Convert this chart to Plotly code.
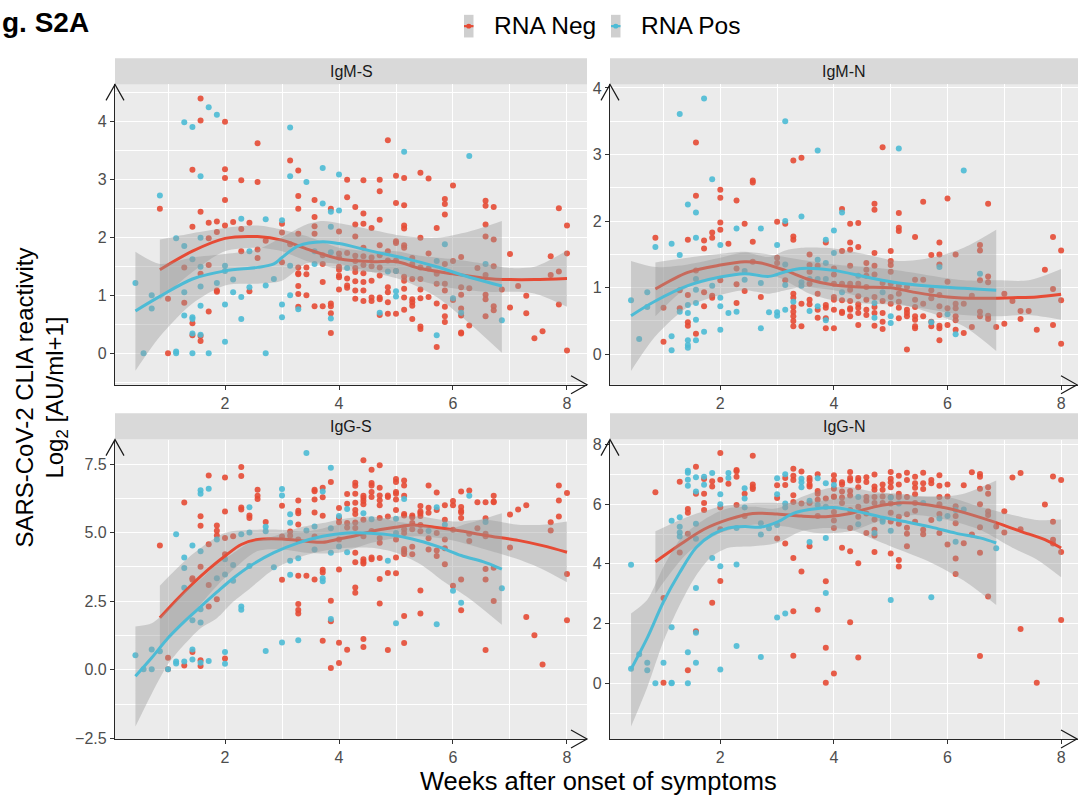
import plotly.graph_objects as go

# ---------------- data (x in days after onset; plotted as weeks) ----------------
RED = "#E64B35"
BLUE = "#4DBBD5"

panel_names = ["IgM-S", "IgM-N", "IgG-S", "IgG-N"]
legend_labels = ["RNA Neg", "RNA Pos"]

igms_neg = [(6,[2.49]),(7,[0.94,0.0]),(9,[1.48,0.87]),(10,[3.16,2.18,0.52,0.31]),
 (11,[4.39,4.01,2.44,1.37,0.21,0.3]),(12,[2.25,1.98,1.52,0.72]),(13,[2.27,2.09,1.08,1.06]),
 (14,[3.99,3.17,3.02,2.64,2.2]),(15,[2.26]),(16,[2.98,2.14,1.76]),(17,[2.25,1.07]),
 (18,[3.62,2.95,1.79,1.64]),(19,[1.94]),(21,[2.23,2.08,1.57]),(22,[3.32,1.88]),
 (23,[3.15,2.71,2.49,2.06,1.48,1.38,1.36,1.16,1.02,0.8]),(24,[1.48,1.36,1.0]),
 (25,[2.64,2.35,2.19,2.06,0.81]),(26,[1.69,1.54,1.23,0.81]),(27,[2.49,0.86,0.81,0.69,0.35]),
 (28,[2.1,1.72,1.65,1.49,1.44,1.34,1.31,1.1]),(29,[2.99,2.69,1.73,1.29,1.17,1.13]),
 (30,[2.52,2.22,2.01,1.68,1.59,1.47,1.4,1.24,1.08,0.94]),
 (31,[2.98,2.41,2.23,1.82,1.67,1.52,1.38,1.23,1.08,0.9]),(32,[2.16,1.65,1.5,1.25,0.96,0.9]),
 (33,[2.99,2.79,2.3,1.86,1.69,1.48,1.34,0.96,0.93,0.66]),(34,[3.67,1.76,1.6,1.14,1.05,0.88,0.68]),
 (35,[3.06,2.59,1.93,1.9,1.6,1.42,0.68]),(36,[3.02,2.55,2.2,2.15,1.86,1.82,1.32,1.25,1.11,0.96,0.75]),
 (37,[1.64,1.54,1.28,0.93,0.88,0.82,0.59]),(38,[3.11,1.99,1.48,1.28,1.1,0.95,0.46,0.42]),
 (39,[3.01,1.72,1.46,0.97]),(40,[2.16,1.37,1.2,0.86,0.11]),
 (41,[2.66,2.57,2.39,1.54,1.2,1.08,0.8,0.64,0.54]),(42,[2.89,1.59,0.92]),
 (43,[1.66,1.14,1.01,0.77,0.65,0.36,0.34]),(44,[1.12,0.48]),(45,[1.47]),
 (46,[2.63,2.54,2.22,2.01,1.35,1.01,0.93,0.64]),(47,[2.52,1.96,1.5,0.81,0.74]),(48,[1.1]),
 (49,[1.71,0.79]),(50,[1.16]),(51,[0.99,0.69]),(52,[0.26]),(53,[0.38]),(54,[1.67,1.35]),
 (55,[2.5,1.41,0.84]),(56,[2.2,1.72,0.05])]
igms_pos = [(3,[1.21]),(4,[0.0]),(5,[1.0,0.77]),(6,[2.72]),(8,[1.98,0.03,0.0]),(9,[3.98,1.85,1.05,0.65]),
 (10,[3.9,1.62,0.62,0.59,0.34,0.0]),(11,[3.05,1.99,1.49,1.15,0.82,0.32]),(12,[4.24,0.0]),(13,[4.11,1.21]),
 (14,[1.51,1.42,0.84,0.2]),(15,[1.27,1.05]),(16,[2.32,0.97,0.59]),(17,[1.76,1.14]),(19,[2.31,1.17,0.0]),
 (20,[1.28]),(21,[2.29,0.84,0.62]),(22,[3.89,3.05,1.51,1.0]),(23,[0.76]),(24,[2.95]),(25,[1.76,1.54]),
 (26,[3.19,2.58]),(27,[2.44,2.18,1.74,0.6]),(28,[3.08,2.46]),(29,[1.47]),(33,[0.7]),(34,[1.41]),
 (35,[1.42,1.07,0.98]),(36,[3.47]),(40,[1.59,0.31]),(41,[1.88]),(42,[0.95]),(43,[0.7]),(44,[3.4]),
 (46,[1.54]),(48,[0.57])]

igmn_neg = [(6,[1.75]),(7,[0.7,0.19]),(9,[0.96,0.69]),(10,[1.72,0.89,0.48,0.43]),(11,[3.18,2.38,1.26,0.31]),
 (12,[1.71,1.59,0.93,0.72]),(13,[1.83,1.75,0.88,0.85]),(14,[2.47,2.35,1.98,1.87,1.11]),(15,[1.66]),
 (16,[2.31,1.29,1.05,0.77]),(17,[1.96,0.95]),(18,[2.61,2.58,1.69,1.39]),(19,[0.86]),(21,[1.99,1.45,1.37]),
 (22,[1.96,1.11]),(23,[2.91,1.77,1.72,0.91,0.85,0.71,0.64,0.57,0.5,0.42]),(24,[2.95,0.76,0.42]),
 (25,[1.5,1.34,1.24,1.06,0.82,0.75]),(26,[1.33,0.91,0.67,0.55]),(27,[1.68,0.74,0.7,0.54,0.39]),
 (28,[1.29,1.2,1.06,0.86,0.82,0.67,0.39]),(29,[2.18,1.55,1.06,0.81,0.64,0.62]),
 (30,[1.96,1.68,1.57,1.33,1.06,0.97,0.8,0.69,0.67,0.57]),(31,[1.97,1.61,1.06,0.87,0.75,0.7,0.62,0.44]),
 (32,[1.37,1.27,1.18,1.01,0.82,0.67,0.59]),(33,[2.26,2.17,1.52,1.33,1.2,0.86,0.71,0.62,0.43]),
 (34,[3.11,1.07,0.8,0.62,0.49,0.38]),(35,[1.55,1.4,1.34,1.24,1.06,0.86,0.76]),
 (36,[2.12,1.9,1.85,1.03,0.91,0.79,0.7,0.54]),(37,[1.01,0.67,0.62,0.57,0.07]),
 (38,[1.76,1.12,0.82,0.71,0.57,0.52,0.42,0.39]),(39,[2.29,1.12,0.76,0.57]),(40,[1.49,0.96,0.84,0.49,0.42]),
 (41,[1.68,1.5,1.35,0.89,0.72,0.59,0.43,0.39,0.21]),(42,[2.34,1.09,0.69,0.44]),
 (43,[1.5,0.76,0.69,0.57,0.51,0.37]),(44,[0.76,0.32]),(45,[0.88,0.41]),(46,[1.64,1.56,1.11,0.64,0.57]),
 (47,[2.26,1.17,1.08,0.58,0.53]),(48,[0.41]),(49,[0.91,0.46]),(50,[0.8]),(51,[0.65,0.53]),(52,[0.65]),
 (53,[0.37]),(54,[1.27]),(55,[1.76,0.98,0.44]),(56,[1.56,0.81,0.16])]
igmn_pos = [(3,[0.81]),(4,[0.23]),(5,[0.93,0.71]),(6,[1.61]),(8,[1.66,0.27,0.06]),(9,[3.61,1.49,0.64]),
 (10,[2.25,0.74,0.62,0.21,0.14,0.1]),(11,[2.13,1.75,1.13,0.97,0.77,0.52,0.21]),(12,[3.84,0.34]),
 (13,[2.63,1.03]),(14,[1.64,0.85,0.72,0.37]),(15,[0.62]),(16,[1.89,0.64]),(17,[1.25,1.12]),
 (19,[1.89,1.07,0.39]),(20,[0.63]),(21,[1.64,0.63,0.58]),(22,[3.5,2.0,1.35,1.04,0.67]),(23,[0.79]),
 (24,[2.07,1.08,1.03]),(25,[1.13,0.65]),(26,[3.06,1.42,1.13,0.72]),(27,[1.72,1.37,1.13,0.51]),
 (28,[1.86,1.52]),(29,[2.13,0.93]),(31,[1.18]),(33,[0.77,0.55]),(34,[0.93]),(35,[0.57,0.47]),(36,[3.09]),
 (40,[0.48]),(41,[1.31]),(42,[0.6]),(43,[0.3]),(44,[2.76]),(46,[1.21])]

iggs_neg = [(6,[4.53]),(7,[0.44,0.02]),(9,[6.1,0.16]),(10,[3.34,3.28,0.65]),(11,[5.6,5.25,3.76,0.35,0.14]),
 (12,[7.09,4.58,3.09,2.31]),(13,[5.26,5.07,4.9,2.57]),(14,[7.01,5.77,4.81,4.21,0.41]),(15,[4.87]),
 (16,[7.4,7.07,5.92,5.85]),(17,[5.63,5.54]),(18,[6.57,6.35,6.23]),(19,[5.39]),(21,[5.98,4.86,3.28]),
 (22,[5.04,4.89]),(23,[6.17,5.8,5.71,5.3,4.75,3.43,2.4,2.18,2.05]),(24,[3.43]),
 (25,[6.57,6.51,6.21,5.74,4.86,3.29]),(26,[6.64,6.29,5.62,3.65,3.55,1.06]),(27,[6.85,2.52,1.77,0.07]),
 (28,[5.9,5.54,5.38,4.75,3.66,0.99,0.25]),(29,[6.41,6.06,5.35,5.19,0.73]),
 (30,[6.82,6.71,6.42,6.09,5.83,5.68,5.37,5.17,4.27,3.92,3.0,2.81]),
 (31,[7.64,6.35,6.27,6.16,6.04,5.47,4.87,4.03,3.94,3.88,1.12,0.83]),
 (32,[7.3,6.81,6.72,6.48,6.3,5.06,4.1,4.03]),(33,[7.46,6.64,6.36,6.18,6.0,5.54,4.81,4.63,4.08,3.31,2.42]),
 (34,[6.36,6.3,5.59,3.53,0.72]),(35,[6.96,6.85,6.48,6.42,6.21,5.83,4.75,4.1,3.52]),
 (36,[6.9,6.72,6.35,5.68,5.63,5.13,4.99,4.41,4.32,4.22,1.96,0.98]),(37,[5.63,5.56,5.35,5.13,4.49,4.21]),
 (38,[5.97,5.77,5.71,5.61,5.28,5.05,2.89,2.05]),(39,[6.72,5.91,5.73,4.8,4.39]),(40,[6.47,5.83,4.99,4.35,4.15]),
 (41,[6.0,5.47,4.75,4.43,3.85]),(42,[6.16,6.0,5.11,3.07]),(43,[6.5,5.94,5.8,5.74,5.54,3.29,2.17]),
 (44,[6.54,4.96,4.7]),(45,[6.11,5.16]),(46,[6.11,5.53,4.96,4.87,3.68,3.29,0.72]),(47,[6.35,6.14,6.11,3.72,2.51]),
 (49,[5.66,4.46]),(50,[5.85]),(51,[6.0,1.93]),(52,[1.26]),(53,[0.19]),(54,[5.38,5.08]),(55,[6.72,6.17,5.59]),
 (56,[6.45,3.49,1.81])]
iggs_pos = [(3,[0.53]),(4,[0.02]),(5,[0.74,0.02]),(6,[0.68]),(7,[0.02]),(8,[4.94,0.3,0.23]),(9,[4.1,3.71,2.99,0.3]),
 (10,[4.53,1.81,0.74,0.38]),(11,[6.55,6.42,4.32,2.21,1.73,0.26]),(12,[6.6,0.32]),(13,[4.75,3.34]),
 (14,[4.03,3.48,0.65,0.22]),(15,[3.82,3.25]),(16,[4.94,2.31,2.19]),(17,[5.93,5.01,3.79]),(19,[5.22,5.05,0.69]),
 (20,[3.74]),(21,[6.59,6.36,1.0]),(22,[5.67,5.36,3.98,3.47]),(23,[4.07,1.08]),(24,[7.91,5.08]),(25,[5.23,4.39]),
 (26,[6.5,3.34,3.23]),(27,[7.37,5.16,4.27,1.85]),(28,[5.61,4.5]),(29,[5.86,4.29]),(31,[5.71]),(32,[5.49]),
 (34,[3.98]),(35,[5.51,4.99,1.7]),(36,[6.23]),(39,[5.06]),(40,[5.93,1.66]),(41,[5.29]),(42,[2.88]),(43,[2.45]),
 (44,[6.35]),(46,[5.39]),(48,[2.97])]

iggn_neg = [(6,[6.4]),(7,[2.86,0.02]),(9,[6.75,4.38]),(10,[5.84,5.71,5.01,0.44]),(11,[7.25,6.35,1.74]),
 (12,[6.84,6.35,6.04,5.8]),(13,[6.77,6.59,2.7]),(14,[7.71,6.82,5.89,5.16,3.43]),(15,[6.68]),
 (16,[7.14,7.1,6.92,5.97]),(17,[6.35,5.6]),(18,[7.62,6.66,6.57,6.51]),(21,[6.63,6.21,4.85]),(22,[6.88,6.64,4.68]),
 (23,[7.19,6.95,6.81,6.3,6.07,4.2,2.41,0.92]),(24,[7.09,6.02,3.74]),(25,[6.88,6.79,6.66,6.59,6.04,4.59]),
 (26,[7.0,6.44,6.35,6.15,5.6,2.46]),(27,[6.19,3.42,1.19,0.02]),(28,[6.97,6.79,6.52,6.26,6.24,5.74,5.45,5.2,0.33]),
 (29,[6.73,6.66,6.42,6.22,6.04,4.54]),(30,[7.08,6.88,6.79,6.44,6.29,5.8,5.2,4.42,2.04]),
 (31,[6.88,6.79,6.57,5.91,5.58,4.02,0.86]),(32,[6.9,6.74,6.24,6.11,5.69,5.03]),
 (33,[6.99,6.59,6.48,6.24,6.04,5.49,5.14,4.95,4.4]),(34,[6.66,6.48,6.26,6.04]),
 (35,[7.08,6.85,6.73,6.57,6.24,6.02,5.71,5.42,4.35]),(36,[6.95,6.66,6.35,6.24,5.58,5.34,4.13,3.91]),
 (37,[7.05,6.81,6.24,5.66,5.21,5.01,4.59]),(38,[6.92,6.7,6.55,6.33,6.04,5.78,5.41]),(39,[7.05,6.7,6.51,5.14,4.99]),
 (40,[6.81,6.7,5.47]),(41,[6.97,6.62,6.24,6.0,5.67,5.03]),(42,[6.66,6.26,4.65]),(43,[5.93,5.6,5.36,4.18,3.66]),
 (44,[6.63,4.69]),(45,[7.07,4.98]),(46,[7.01,6.92,6.52,6.0,5.23,4.37,0.91]),(47,[6.57,6.35,5.75,5.64,2.91]),
 (48,[5.25]),(49,[5.76,5.05]),(50,[6.89]),(51,[7.04,5.16,1.82]),(53,[0.02]),(54,[5.99]),(55,[6.93,5.41,4.81,4.68]),
 (56,[6.81,4.4,2.12])]
iggn_pos = [(3,[3.97,0.49]),(4,[0.97]),(5,[0.69,0.44]),(6,[0.0]),(7,[0.69]),(8,[5.44,1.88,0.02,0.0]),
 (9,[5.56,5.24,5.05,4.92]),(10,[7.12,7.05,6.82,6.62,1.04,0.0]),(11,[6.9,6.42,5.34,4.84,3.19,1.69,0.69]),
 (12,[6.92,6.65]),(13,[7.04,4.2]),(14,[6.33,6.0,3.92,0.46]),(15,[7.04,6.88]),(16,[5.2,3.98,1.25]),
 (17,[6.53,6.19,5.89]),(19,[5.36,4.98,0.88]),(20,[5.19]),(21,[6.87,6.33,5.3,2.2]),(22,[7.0,6.02,5.89,2.34]),
 (24,[6.85,6.73,6.57]),(25,[6.11,4.73]),(26,[6.87,5.97]),(27,[6.7,5.91,4.87,3.02]),(28,[6.64]),(31,[6.24,5.33]),
 (33,[5.03]),(34,[5.47,5.41]),(35,[6.22,5.11,2.79]),(36,[6.02]),(39,[6.04]),(40,[2.88]),(41,[5.52]),(42,[5.6]),
 (43,[5.8,4.74]),(44,[5.82]),(48,[4.52])]

# smoothed fits: days, fit; band days, lower, upper
igms_neg_fit_days = [6,10,14,18,21,24,28,32,35,38,42,46,49,52,56]
igms_neg_fit = [1.44,1.76,1.98,2.01,1.95,1.8,1.63,1.58,1.58,1.46,1.37,1.29,1.27,1.27,1.29]
igms_neg_band_days = [6,10,14,18,21,24,28,32,35,38,42,46,49,52,56]
igms_neg_hi = [1.96,2.07,2.16,2.2,2.13,2.02,1.82,1.76,1.76,1.68,1.62,1.54,1.47,1.49,1.77]
igms_neg_lo = [0.92,1.4,1.76,1.82,1.76,1.59,1.45,1.4,1.38,1.25,1.12,1.06,1.06,1.03,0.8]
igms_pos_fit_days = [3,6,10,14,18,20,21,23,26,28,32,36,40,44,48]
igms_pos_fit = [0.73,0.98,1.28,1.42,1.48,1.54,1.65,1.85,1.92,1.89,1.76,1.64,1.49,1.31,1.16]
igms_pos_band_days = [3,6,10,14,18,21,24,26,28,32,36,40,44,48]
igms_pos_hi = [1.75,1.54,1.65,1.71,1.79,2.0,2.22,2.28,2.24,2.13,2.02,1.99,2.1,2.28]
igms_pos_lo = [-0.3,0.29,0.86,1.17,1.2,1.25,1.55,1.56,1.54,1.4,1.25,0.97,0.52,0.01]

igmn_neg_fit_days = [6,10,14,17,19,22,25,28,31,35,38,42,46,50,53,56]
igmn_neg_fit = [0.98,1.23,1.34,1.39,1.37,1.26,1.12,1.04,1.01,1.0,0.93,0.86,0.84,0.85,0.86,0.9]
igmn_neg_band_days = [6,10,14,17,21,25,28,32,36,40,44,48,52,56]
igmn_neg_hi = [1.38,1.45,1.51,1.54,1.48,1.4,1.35,1.31,1.26,1.18,1.11,1.11,1.11,1.28]
igmn_neg_lo = [0.57,1.01,1.16,1.22,1.16,0.91,0.81,0.76,0.74,0.67,0.59,0.57,0.59,0.52]
igmn_pos_fit_days = [3,6,10,14,17,20,22,24,28,32,36,40,44,48]
igmn_pos_fit = [0.58,0.8,1.03,1.16,1.21,1.17,1.24,1.29,1.26,1.16,1.07,1.02,0.99,0.96]
igmn_pos_band_days = [3,6,10,14,17,20,22,24,28,32,36,40,44,48]
igmn_pos_hi = [1.4,1.31,1.35,1.45,1.53,1.46,1.56,1.6,1.59,1.5,1.4,1.45,1.6,1.87]
igmn_pos_lo = [-0.25,0.27,0.71,0.89,0.96,0.91,0.96,1.01,0.96,0.84,0.76,0.62,0.42,0.05]

iggs_neg_fit_days = [6,8,10,12,14,16,18,21,24,26,28,30,32,35,37,40,43,46,50,53,56]
iggs_neg_fit = [1.9,2.54,3.13,3.67,4.15,4.57,4.75,4.77,4.69,4.65,4.77,4.89,5.05,5.2,5.28,5.19,5.06,4.9,4.72,4.53,4.29]
iggs_neg_band_days = [6,10,14,18,21,24,28,32,35,38,42,46,50,53,56]
iggs_neg_hi = [3.07,4.21,4.99,5.11,5.11,5.05,5.29,5.47,5.59,5.59,5.41,5.47,5.29,5.29,5.41]
iggs_neg_lo = [0.8,2.06,3.37,4.33,4.39,4.27,4.27,4.63,4.81,4.87,4.72,4.39,4.03,3.67,3.19]
iggs_pos_fit_days = [3,5,7,9,11,13,15,17,20,23,26,29,31,34,37,40,43,46,48]
iggs_pos_fit = [-0.23,0.44,1.16,1.76,2.3,2.83,3.34,3.77,4.27,4.63,4.87,4.99,4.99,4.93,4.77,4.51,4.17,3.91,3.67]
iggs_pos_band_days = [3,5,7,9,11,13,15,17,20,23,26,29,32,35,38,41,44,48]
iggs_pos_hi = [1.58,1.7,2.2,2.83,3.3,3.85,4.25,4.63,4.87,5.17,5.35,5.53,5.59,5.41,5.29,5.11,5.35,5.71]
iggs_pos_lo = [-2.07,-0.87,0.2,0.92,1.52,1.88,2.48,2.95,3.67,4.09,4.33,4.45,4.45,4.27,3.85,3.19,2.6,1.64]

iggn_neg_fit_days = [6,9,12,15,18,21,24,27,30,33,36,39,42,45,48,51,54,56]
iggn_neg_fit = [4.07,4.64,5.16,5.49,5.69,5.67,5.6,5.58,5.69,5.91,6.04,6.0,5.86,5.64,5.38,5.09,4.81,4.53]
iggn_neg_band_days = [6,10,14,18,22,26,30,34,38,42,46,50,53,56]
iggn_neg_hi = [5.09,5.58,5.91,6.04,6.04,6.1,6.25,6.35,6.26,6.24,5.91,5.64,5.47,5.49]
iggn_neg_lo = [3.0,4.37,5.03,5.31,5.25,5.03,5.09,5.47,5.64,5.47,5.14,4.54,4.15,3.55]
iggn_pos_fit_days = [3,5,7,9,11,13,15,17,19,21,23,25,28,31,34,37,40,43,46,48]
iggn_pos_fit = [0.47,1.52,2.73,3.71,4.54,4.98,5.2,5.25,5.23,5.4,5.69,5.82,5.89,5.75,5.56,5.4,5.23,5.03,4.87,4.7]
iggn_pos_band_days = [3,5,7,9,11,13,15,18,21,24,27,30,33,36,40,44,48]
iggn_pos_hi = [2.34,2.8,3.9,4.81,5.3,5.64,5.86,5.91,5.86,6.24,6.52,6.57,6.41,6.35,6.24,6.35,6.79]
iggn_pos_lo = [-1.45,-0.13,1.41,2.62,3.6,4.26,4.54,4.59,4.7,5.09,5.2,5.14,4.81,4.48,4.04,3.44,2.62]

# ---------------- layout geometry ----------------
W, H = 1078, 807
FONT = "Liberation Sans, Arial, sans-serif"
def px(x): return x / W
def py(y): return 1 - y / H

LEFT_X = [px(115), px(587)]
RIGHT_X = [px(610), 1.0]
TOP_Y = [py(386), py(80.7)]
BOT_Y = [py(746), py(441.7)]

panels = [
    dict(name=panel_names[0], xd=LEFT_X, yd=TOP_Y, xr=[0.0702, 8.351], yr=[-0.542, 4.632], ydt=1, ymin=0.5, yfmt="d",
         neg=igms_neg, pos=igms_pos,
         nf=(igms_neg_fit_days, igms_neg_fit), nb=(igms_neg_band_days, igms_neg_lo, igms_neg_hi),
         pf=(igms_pos_fit_days, igms_pos_fit), pb=(igms_pos_band_days, igms_pos_lo, igms_pos_hi)),
    dict(name=panel_names[1], xd=RIGHT_X, yd=TOP_Y, xr=[0.0581, 8.297], yr=[-0.458, 4.053], ydt=1, ymin=0.5, yfmt="d",
         neg=igmn_neg, pos=igmn_pos,
         nf=(igmn_neg_fit_days, igmn_neg_fit), nb=(igmn_neg_band_days, igmn_neg_lo, igmn_neg_hi),
         pf=(igmn_pos_fit_days, igmn_pos_fit), pb=(igmn_pos_band_days, igmn_pos_lo, igmn_pos_hi)),
    dict(name=panel_names[2], xd=LEFT_X, yd=BOT_Y, xr=[0.0702, 8.351], yr=[-2.522, 8.396], ydt=2.5, ymin=1.25, yfmt=".1f",
         neg=iggs_neg, pos=iggs_pos,
         nf=(iggs_neg_fit_days, iggs_neg_fit), nb=(iggs_neg_band_days, iggs_neg_lo, iggs_neg_hi),
         pf=(iggs_pos_fit_days, iggs_pos_fit), pb=(iggs_pos_band_days, iggs_pos_lo, iggs_pos_hi)),
    dict(name=panel_names[3], xd=RIGHT_X, yd=BOT_Y, xr=[0.0581, 8.297], yr=[-1.866, 8.163], ydt=2, ymin=1, yfmt="d",
         neg=iggn_neg, pos=iggn_pos,
         nf=(iggn_neg_fit_days, iggn_neg_fit), nb=(iggn_neg_band_days, iggn_neg_lo, iggn_neg_hi),
         pf=(iggn_pos_fit_days, iggn_pos_fit), pb=(iggn_pos_band_days, iggn_pos_lo, iggn_pos_hi)),
]

def flat(cols):
    xs, ys = [], []
    for d, vals in cols:
        for v in vals:
            xs.append(d / 7.0)
            ys.append(v)
    return xs, ys

def wk(days):
    return [d / 7.0 for d in days]

fig = go.Figure()
BAND = "rgba(153,153,153,0.4)"
shapes = []
annotations = []

for i, p in enumerate(panels):
    k = "" if i == 0 else str(i + 1)
    xa, ya = "x" + k, "y" + k
    # points
    for cols, col in ((p["neg"], RED), (p["pos"], BLUE)):
        xs, ys = flat(cols)
        fig.add_trace(go.Scatter(x=xs, y=ys, mode="markers", xaxis=xa, yaxis=ya, showlegend=False,
                                 marker=dict(size=6, color=col, opacity=0.9, line=dict(width=0)),
                                 hoverinfo="skip"))
    # smooth bands and lines
    for fit, band, col in ((p["nf"], p["nb"], RED), (p["pf"], p["pb"], BLUE)):
        bd, lo, hi = band
        fig.add_trace(go.Scatter(x=wk(bd), y=lo, mode="lines", xaxis=xa, yaxis=ya, showlegend=False,
                                 line=dict(width=0, shape="spline", smoothing=0.8, color=BAND), hoverinfo="skip"))
        fig.add_trace(go.Scatter(x=wk(bd), y=hi, mode="lines", xaxis=xa, yaxis=ya, showlegend=False,
                                 fill="tonexty", fillcolor=BAND,
                                 line=dict(width=0, shape="spline", smoothing=0.8, color=BAND), hoverinfo="skip"))
        fd, fv = fit
        fig.add_trace(go.Scatter(x=wk(fd), y=fv, mode="lines", xaxis=xa, yaxis=ya, showlegend=False,
                                 line=dict(width=3, shape="spline", smoothing=0.9, color=col), hoverinfo="skip"))

    axis_common = dict(showline=True, linecolor="#262626", linewidth=1.2, ticks="outside", ticklen=4,
                       tickcolor="#333333", tickwidth=1, showgrid=True, gridcolor="white", gridwidth=1.2,
                       zeroline=False, tickfont=dict(family=FONT, size=16, color="#4D4D4D"))
    fig.update_layout(**{
        "xaxis" + k: dict(domain=p["xd"], range=p["xr"], anchor=ya, tick0=0, dtick=2,
                          minor=dict(dtick=1, showgrid=True, gridcolor="white", gridwidth=0.6),
                          **axis_common),
        "yaxis" + k: dict(domain=p["yd"], range=p["yr"], anchor=xa, tick0=0, dtick=p["ydt"],
                          tickformat=p["yfmt"],
                          minor=dict(dtick=p["ymin"], showgrid=True, gridcolor="white", gridwidth=0.6),
                          **axis_common),
    })
    x0, x1 = p["xd"]
    y0, y1 = p["yd"]
    # facet strip
    strip_top = y1 + (26.7 / H)
    shapes.append(dict(type="rect", xref="paper", yref="paper", x0=x0, x1=x1, y0=y1, y1=strip_top,
                       fillcolor="#D9D9D9", line=dict(width=0), layer="below"))
    annotations.append(dict(text=p["name"], xref="paper", yref="paper", x=(x0 + x1) / 2, y=(y1 + strip_top) / 2,
                            xanchor="center", yanchor="middle", showarrow=False,
                            font=dict(family=FONT, size=16, color="#1A1A1A")))
    # open arrow heads at the axis ends
    shapes.append(dict(type="path", xref="paper", yref="paper", xsizemode="pixel", ysizemode="pixel",
                       xanchor=x0, yanchor=y1, path="M -9,-16 L 0,0 L 9,-16",
                       line=dict(color="#1a1a1a", width=1.2), layer="above"))
    shapes.append(dict(type="path", xref="paper", yref="paper", xsizemode="pixel", ysizemode="pixel",
                       xanchor=x1 if x1 < 1 else px(1077), yanchor=y0, path="M -16,9 L 0,0 L -16,-9",
                       line=dict(color="#1a1a1a", width=1.2), layer="above"))

# manual legend (ggplot-style keys)
for lbl, col, kx, tx in ((legend_labels[0], RED, 464, 492), (legend_labels[1], BLUE, 611, 639)):
    shapes.append(dict(type="rect", xref="paper", yref="paper", x0=px(kx), x1=px(kx + 9.5), y0=py(33), y1=py(10),
                       fillcolor="#CFCFCF", line=dict(width=0)))
    shapes.append(dict(type="line", xref="paper", yref="paper", x0=px(kx), x1=px(kx + 9.5), y0=py(21.5), y1=py(21.5),
                       line=dict(color=col, width=2.2)))
    shapes.append(dict(type="circle", xref="paper", yref="paper", x0=px(kx + 2.2), x1=px(kx + 7.3),
                       y0=py(24), y1=py(19), fillcolor=col, line=dict(width=0)))
    annotations.append(dict(text=lbl, xref="paper", yref="paper", x=px(tx), y=py(20.5), xanchor="left",
                            yanchor="middle", showarrow=False, font=dict(family=FONT, size=24.5, color="#000000")))

# titles (the figure label is cropped at the left edge in the source: only "g. S2A" is visible)
annotations += [
    dict(text="<b>g. S2A</b>", xref="paper", yref="paper", x=px(0), y=1.0, xanchor="left", yanchor="top",
         showarrow=False, font=dict(family=FONT, size=28, color="#000000")),
    dict(text="Weeks after onset of symptoms", xref="paper", yref="paper", x=px(598), y=py(789),
         xanchor="center", yanchor="middle", showarrow=False, font=dict(family=FONT, size=25.5, color="#000000")),
    dict(text="SARS-CoV-2 CLIA reactivity", xref="paper", yref="paper", x=px(25), y=py(399), textangle=-90,
         xanchor="center", yanchor="middle", showarrow=False, font=dict(family=FONT, size=24, color="#000000")),
    dict(text="Log<sub>2</sub> [AU/ml+1]", xref="paper", yref="paper", x=px(57), y=py(399), textangle=-90,
         xanchor="center", yanchor="middle", showarrow=False, font=dict(family=FONT, size=24, color="#000000")),
]

fig.update_layout(width=W, height=H, margin=dict(l=0, r=0, t=0, b=0), paper_bgcolor="white",
                  plot_bgcolor="#EBEBEB", showlegend=False, shapes=shapes, annotations=annotations,
                  font=dict(family=FONT))
fig.write_html("out.html")
